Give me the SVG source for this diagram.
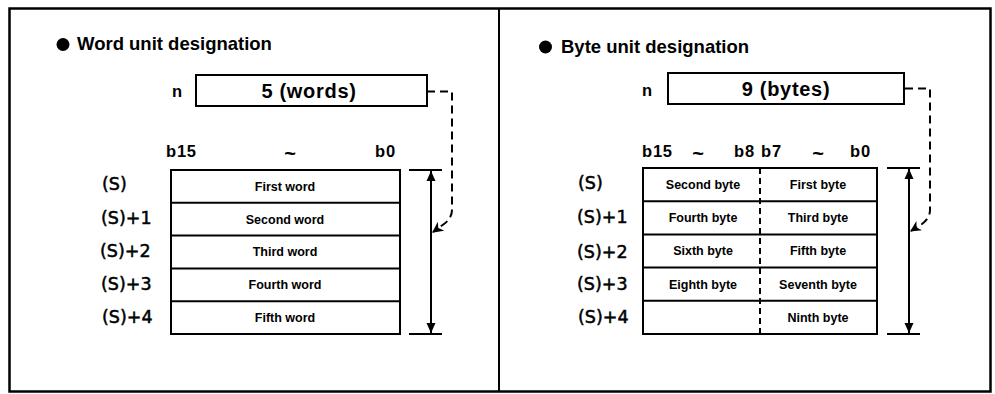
<svg xmlns="http://www.w3.org/2000/svg" width="995" height="394" viewBox="0 0 995 394">
<style>
.frame{fill:none;stroke:#000;stroke-width:2.5}
.box{fill:#fff;stroke:#000;stroke-width:2}
.ln{stroke:#000;stroke-width:2;fill:none}
.dash{stroke:#000;stroke-width:2;fill:none;stroke-dasharray:8 5}
.mid{stroke:#000;stroke-width:2;fill:none;stroke-dasharray:6 4}
.title{font-family:"Liberation Sans",Arial,sans-serif;font-weight:bold;font-size:18.5px;fill:#000}
.big{font-family:"Liberation Sans",Arial,sans-serif;font-weight:bold;font-size:20px;letter-spacing:0.7px;fill:#000;text-anchor:middle}
.hdr{font-family:"Liberation Sans",Arial,sans-serif;font-weight:bold;font-size:16.5px;letter-spacing:0.8px;fill:#000}
.tl{font-family:"Liberation Sans",Arial,sans-serif;font-weight:bold;font-size:20px;fill:#000;text-anchor:middle}
.row{font-family:"DejaVu Sans",sans-serif;font-size:17.5px;fill:#000;stroke:#000;stroke-width:0.5}
.cell{font-family:"Liberation Sans",Arial,sans-serif;font-weight:bold;font-size:12.5px;fill:#000;text-anchor:middle}
</style>
<defs>
<marker id="ah" viewBox="0 0 10 10" refX="10" refY="5" markerWidth="10" markerHeight="10" markerUnits="userSpaceOnUse" orient="auto-start-reverse">
<path d="M0,0.5 L10,5 L0,9.5 Z" fill="#000"/>
</marker>
<marker id="ahd" viewBox="0 0 10 10" refX="9" refY="5" markerWidth="11" markerHeight="11" markerUnits="userSpaceOnUse" orient="auto">
<path d="M0,0 L10,5 L0,10 L3,5 Z" fill="#000"/>
</marker>
</defs>
<rect width="995" height="394" fill="#fff"/>
<g id="frame">
<rect class="frame" x="9.5" y="8.5" width="981" height="383"/>
<line class="ln" x1="499" y1="8.5" x2="499" y2="391.5" stroke-width="2.5"/>
</g>

<g id="word-title">
<circle cx="63" cy="44.5" r="6.5" fill="#000"/>
<text class="title" x="77" y="50">Word unit designation</text>
</g>
<g id="word-n">
<text class="hdr" x="172" y="97">n</text>
<rect class="box" x="196" y="75" width="231" height="31"/>
<text class="big" x="309" y="98">5 (words)</text>
</g>
<g id="word-header">
<text class="hdr" x="166" y="157">b15</text>
<text class="tl" x="290" y="160">~</text>
<text class="hdr" x="375" y="157">b0</text>
</g>
<g id="word-table">
<rect class="box" x="171" y="170" width="229" height="164"/>
<line class="ln" x1="171" y1="202.8" x2="400" y2="202.8"/>
<line class="ln" x1="171" y1="235.6" x2="400" y2="235.6"/>
<line class="ln" x1="171" y1="268.4" x2="400" y2="268.4"/>
<line class="ln" x1="171" y1="301.2" x2="400" y2="301.2"/>
<text class="cell" x="285" y="190.5">First word</text>
<text class="cell" x="285" y="223.5">Second word</text>
<text class="cell" x="285" y="256">Third word</text>
<text class="cell" x="285" y="289">Fourth word</text>
<text class="cell" x="285" y="322">Fifth word</text>
</g>
<g id="word-rows">
<text class="row" x="102" y="190">(S)</text>
<text class="row" x="101" y="224">(S)+1</text>
<text class="row" x="100" y="257">(S)+2</text>
<text class="row" x="101" y="290">(S)+3</text>
<text class="row" x="102" y="323">(S)+4</text>
</g>
<g id="word-span">
<line class="ln" x1="409" y1="170" x2="442" y2="170"/>
<line class="ln" x1="409" y1="334" x2="442" y2="334"/>
</g>

<g id="byte-title">
<circle cx="545.5" cy="47" r="6.5" fill="#000"/>
<text class="title" x="561" y="52.5">Byte unit designation</text>
</g>
<g id="byte-n">
<text class="hdr" x="642" y="96">n</text>
<rect class="box" x="668" y="73" width="236" height="31"/>
<text class="big" x="786" y="96">9 (bytes)</text>
</g>
<g id="byte-header">
<text class="hdr" x="642" y="157">b15</text>
<text class="tl" x="698" y="160">~</text>
<text class="hdr" x="734" y="157">b8</text>
<text class="hdr" x="761" y="157">b7</text>
<text class="tl" x="818" y="160">~</text>
<text class="hdr" x="850" y="157">b0</text>
</g>
<g id="byte-table">
<rect class="box" x="643" y="168" width="234" height="166"/>
<line class="ln" x1="643" y1="201.2" x2="877" y2="201.2"/>
<line class="ln" x1="643" y1="234.4" x2="877" y2="234.4"/>
<line class="ln" x1="643" y1="267.6" x2="877" y2="267.6"/>
<line class="ln" x1="643" y1="300.8" x2="877" y2="300.8"/>
<line class="mid" x1="760" y1="168" x2="760" y2="334"/>
<text class="cell" x="703" y="189">Second byte</text>
<text class="cell" x="818" y="189">First byte</text>
<text class="cell" x="703" y="222">Fourth byte</text>
<text class="cell" x="818" y="222">Third byte</text>
<text class="cell" x="703" y="255">Sixth byte</text>
<text class="cell" x="818" y="255">Fifth byte</text>
<text class="cell" x="703" y="289">Eighth byte</text>
<text class="cell" x="818" y="289">Seventh byte</text>
<text class="cell" x="818" y="322">Ninth byte</text>
</g>
<g id="byte-rows">
<text class="row" x="578" y="189">(S)</text>
<text class="row" x="577" y="223">(S)+1</text>
<text class="row" x="577" y="258">(S)+2</text>
<text class="row" x="577" y="290">(S)+3</text>
<text class="row" x="578" y="323">(S)+4</text>
</g>
<g id="byte-span">
<line class="ln" x1="887" y1="168" x2="920" y2="168"/>
<line class="ln" x1="887" y1="334" x2="920" y2="334"/>
</g>

<g id="connectors">
<line class="ln" x1="431" y1="171" x2="431" y2="333" marker-start="url(#ah)" marker-end="url(#ah)"/>
<line class="ln" x1="909" y1="169" x2="909" y2="333" marker-start="url(#ah)" marker-end="url(#ah)"/>
<path class="dash" d="M427,91.5 H452 V210 Q452,218 444,224 L433,232" marker-end="url(#ahd)"/>
<path class="dash" d="M905,88.5 H930 V210 Q930,218 922,224 L911,231" marker-end="url(#ahd)"/>
</g>
</svg>
